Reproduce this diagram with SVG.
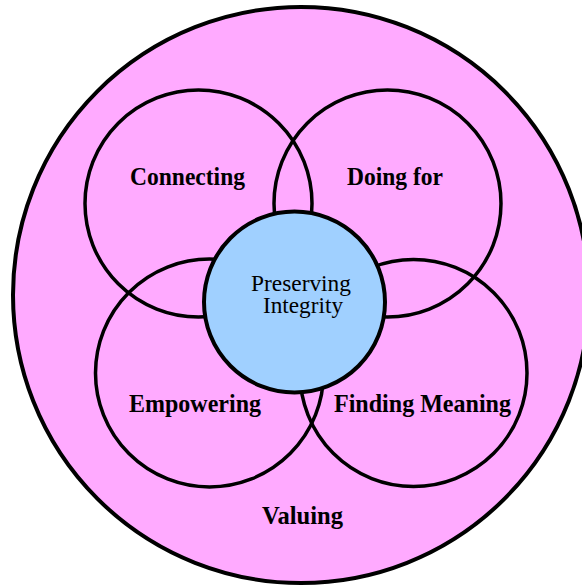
<svg xmlns="http://www.w3.org/2000/svg" width="582" height="585" viewBox="0 0 582 585">
  <style>
    .ring { fill: none; stroke: #000; stroke-width: 3.5; }
    .outer { fill: #FFAAFF; stroke: #000; stroke-width: 4; }
    .core { fill: #A0D0FF; stroke: #000; stroke-width: 4; }
    .bold { font-family: "Liberation Serif", "Times New Roman", serif; font-weight: bold; font-size: 25px; fill: #000; text-anchor: middle; }
    .reg { font-family: "Liberation Serif", "Times New Roman", serif; font-size: 22.5px; fill: #000; text-anchor: middle; }
  </style>

  <!-- outer field -->
  <g id="valuing">
    <circle class="outer" cx="301" cy="295" r="288"/>
    <text class="bold" x="302.5" y="524" textLength="81" lengthAdjust="spacingAndGlyphs">Valuing</text>
  </g>

  <!-- four overlapping rings -->
  <g id="connecting">
    <circle class="ring" cx="198.5" cy="203.5" r="113.5"/>
    <text class="bold" x="187.5" y="185" textLength="115" lengthAdjust="spacingAndGlyphs">Connecting</text>
  </g>
  <g id="doing-for">
    <circle class="ring" cx="387.5" cy="203.5" r="113.5"/>
    <text class="bold" x="395" y="185" textLength="96" lengthAdjust="spacingAndGlyphs">Doing for</text>
  </g>
  <g id="empowering">
    <circle class="ring" cx="209.5" cy="373" r="114"/>
    <text class="bold" x="195" y="412" textLength="132" lengthAdjust="spacingAndGlyphs">Empowering</text>
  </g>
  <g id="finding-meaning">
    <circle class="ring" cx="413.5" cy="373" r="113.5"/>
    <text class="bold" x="422.5" y="412" textLength="177" lengthAdjust="spacingAndGlyphs">Finding Meaning</text>
  </g>

  <!-- centre -->
  <g id="preserving-integrity">
    <circle class="core" cx="294.5" cy="302" r="90.5"/>
    <text class="reg" x="301" y="291" textLength="100" lengthAdjust="spacingAndGlyphs">Preserving</text>
    <text class="reg" x="303" y="313" textLength="80" lengthAdjust="spacingAndGlyphs">Integrity</text>
  </g>

  <g id="connectors"/>
</svg>
